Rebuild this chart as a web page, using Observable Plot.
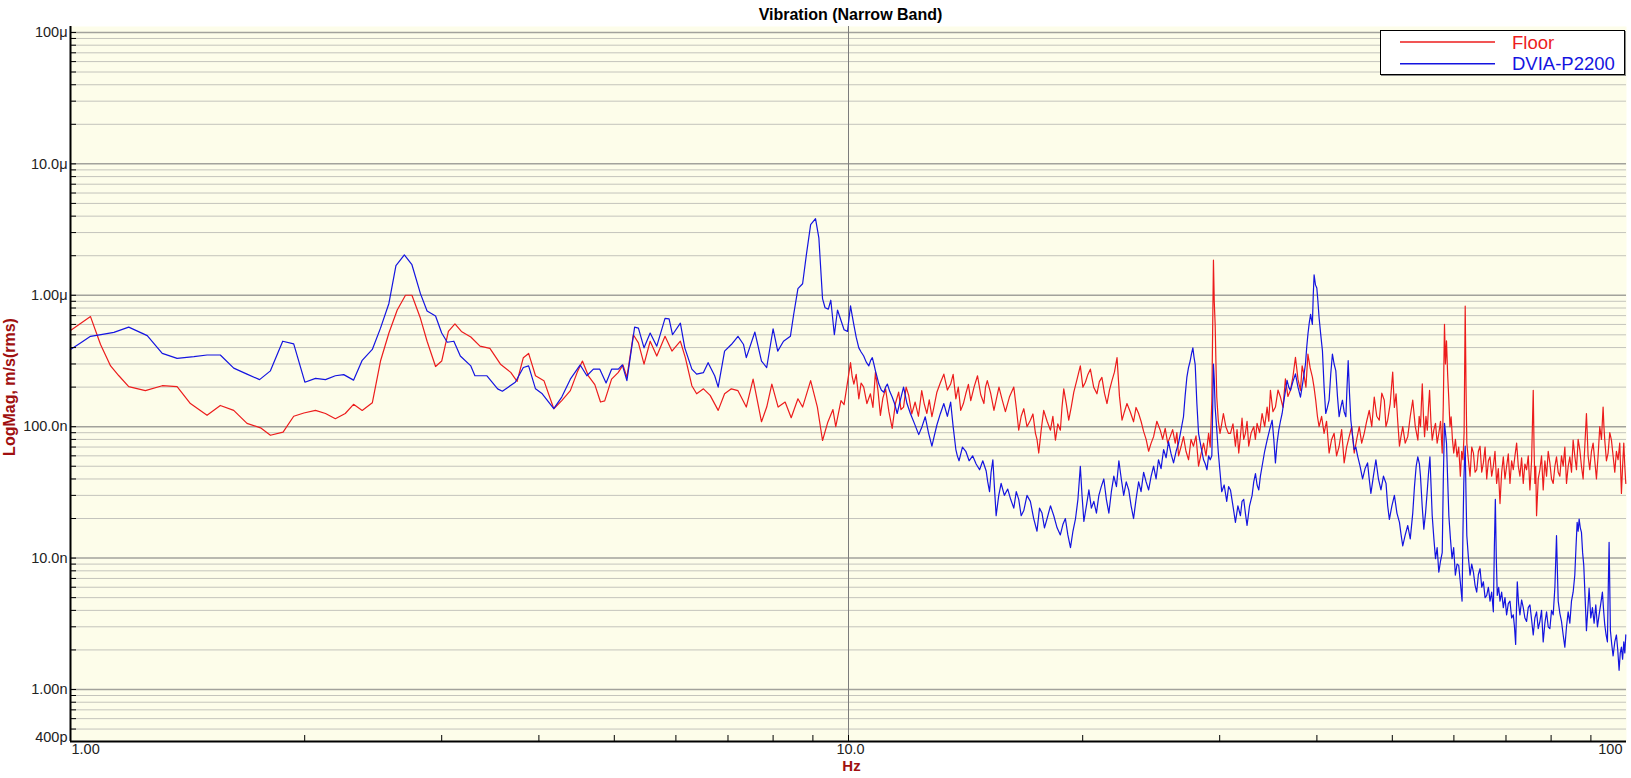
<!DOCTYPE html>
<html><head><meta charset="utf-8">
<script src="https://cdn.jsdelivr.net/npm/d3@7"></script>
<script src="https://cdn.jsdelivr.net/npm/@observablehq/plot@0.6"></script>
<style>
body{margin:0;background:#fff;}
#wrap{position:relative;width:1631px;height:778px;font-family:"Liberation Sans",Arial,sans-serif;}
#legend{position:absolute;left:1380px;top:30px;width:243px;height:43px;background:#fff;border:1px solid #000;box-shadow:1px 1px 0 #888;}
</style></head>
<body><div id="wrap"><div id="legend"></div></div>
<script>
// ---- data (values in nano m/s rms) ----
const seriesNames = ["Floor", "DVIA-P2200"];
const seriesColors = ["#ec1c1c", "#1414e0"];

// Floor, 1 - 10 Hz
const floorFreqLow = [1.00,1.061,1.093,1.126,1.154,1.188,1.248,1.312,1.371,1.426,1.498,1.558,1.621,1.686,1.755,1.807,1.876,1.936,1.995,2.065,2.127,2.190,2.255,2.311,2.371,2.443,2.503,2.566,2.630,2.695,2.747,2.817,2.873,2.946,3.00,3.06,3.12,3.18,
3.27,3.36,3.46,3.57,3.68,3.75,3.82,3.88,3.96,4.06,4.18,4.28,4.39,4.48,4.55,4.63,4.72,4.80,4.86,4.96,5.06,5.13,5.19,5.29,5.37,5.46,5.56,5.67,5.81,5.93,6.08,6.17,6.29,6.38,6.51,6.64,6.80,6.93,7.07,7.21,7.39,7.54,7.73,7.85,7.97,8.12,8.29,8.44,8.61,8.73,8.94,9.12,9.26,9.40,9.55,9.63,9.78,9.87];
const floorNanoLow = [540,688,422,290,244,202,188,205,202,150,122,145,133,106,98,86,91,120,127,133,126,115,126,148,133,152,316,516,772,1000,1000,668,447,287,316,531,606,531,
481,410,394,299,259,221,335,361,244,224,137,158,188,259,316,244,209,154,157,230,259,295,237,501,434,299,447,345,487,376,447,335,205,178,194,173,133,178,194,188,141,230,109,141,211,141,154,117,163,141,224,141,78.5,107,135,100,158,147];

// Floor, 10 - 31 Hz
const floorFreqMid = [
10.06,10.11,10.16,10.23,10.31,10.38,10.46,10.56,10.67,10.75,
10.83,10.91,10.99,11.07,11.16,11.27,11.38,11.49,11.60,11.68,
11.77,11.86,11.95,12.06,12.18,12.30,12.42,12.51,12.61,12.70,
12.80,12.89,12.99,13.12,13.26,13.40,13.53,13.63,13.74,13.84,
13.94,14.05,14.15,14.26,14.36,14.50,14.65,14.79,14.93,15.00,
15.08,15.23,15.38,15.50,15.61,15.76,15.91,16.11,16.31,16.43,
16.55,16.67,16.80,16.96,17.13,17.26,17.39,17.47,17.56,17.69,
17.82,18.00,18.18,18.31,18.45,18.58,18.72,18.81,18.91,19.05,
19.19,19.33,19.48,19.67,19.86,20.01,20.16,20.31,20.46,20.66,
20.86,21.01,21.17,21.33,21.49,21.65,21.81,21.97,22.14,22.30,
22.47,22.63,22.80,23.02,23.25,23.42,23.60,23.77,23.95,24.13,
24.31,24.49,24.67,24.91,25.16,25.34,25.53,25.72,25.91,26.10,
26.30,26.43,26.56,26.75,26.95,27.15,27.36,27.56,27.76,27.97,
28.18,28.39,28.60,28.81,29.03,29.17,29.31,29.45,29.52,29.60,
29.67,29.74,29.88,30.03,30.18,30.33,30.55,30.78];
const floorNanoMid = [
307,240,211,250,163,215,200,150,178,140,
259,190,122,165,194,130,97,150,183,135,
141,200,173,125,154,120,188,150,126,160,
119,145,183,215,251,190,211,250,163,200,
133,150,178,210,158,200,244,175,150,200,
224,180,133,165,200,160,130,170,200,140,
94,120,137,100,112,125,89,80,63,95,
133,110,94,120,79,105,94,140,194,150,
112,140,183,230,290,200,218,250,274,200,
178,220,237,180,150,190,224,260,335,170,
112,130,150,130,109,140,126,110,92,80,
65,75,84,110,94,80,97,75,84,95,
75,90,60,70,84,65,56,80,71,85,
50,62,75,60,89,70,158,1850,900,596,
300,168,110,89,105,126,100,89];

// Floor, 31 - 54 Hz
const floorFreqHigh = [
30.97,31.20,31.43,31.58,31.74,31.90,32.05,32.21,32.37,32.53,
32.69,32.93,33.18,33.34,33.51,33.76,34.01,34.27,34.52,34.69,
34.86,35.12,35.38,35.65,35.91,36.18,36.44,36.71,36.99,37.26,
37.54,37.82,38.10,38.29,38.48,38.72,38.95,39.21,39.47,39.66,
39.86,40.06,40.26,40.56,40.86,41.16,41.47,41.78,42.09,42.40,
42.72,43.04,43.36,43.68,44.01,44.34,44.67,45.00,45.34,45.67,
46.01,46.35,46.70,47.05,47.40,47.75,48.11,48.47,48.83,49.07,
49.32,49.69,50.06,50.31,50.56,50.81,51.07,51.32,51.57,51.95,
52.34,52.73,53.12,53.52,53.93,54.14];
const floorNanoHigh = [
89,105,71,95,63,85,116,80,89,110,
71,90,100,80,106,90,126,100,141,110,
189,130,141,190,168,140,231,170,189,240,
337,230,189,290,252,200,357,280,238,200,
159,120,100,120,89,110,63,80,89,60,
71,95,53,70,84,100,63,80,100,75,
89,110,133,100,168,120,112,180,159,100,
112,150,260,140,178,110,71,85,100,75,
84,120,159,100,79,120];

// Floor, 54 - 100 Hz
const floorFreqTop = [
54.35,54.50,54.64,54.83,55.01,55.24,55.46,55.65,55.83,56.05,
56.27,56.55,56.82,57.10,57.38,57.67,57.96,58.15,58.35,58.52,
58.70,58.90,59.11,59.31,59.51,59.74,59.97,60.27,60.56,60.86,
61.16,61.40,61.63,61.84,62.04,62.19,62.34,62.64,62.94,63.25,
63.57,63.88,64.19,64.51,64.83,65.15,65.47,65.80,66.12,66.45,
66.77,67.10,67.43,67.76,68.09,68.43,68.77,69.11,69.45,69.79,
70.13,70.48,70.83,71.18,71.53,71.88,72.24,72.60,72.95,73.31,
73.67,74.03,74.40,74.77,75.14,75.51,75.88,76.06,76.25,76.44,
76.63,77.01,77.39,77.77,78.15,78.54,78.93,79.32,79.71,80.10,
80.50,80.90,81.29,81.70,82.10,82.50,82.91,83.32,83.73,84.15,
84.56,84.98,85.39,85.81,86.24,86.66,87.09,87.52,87.95,88.38,
88.82,89.26,89.70,90.15,90.59,91.04,91.49,91.94,92.39,92.85,
93.31,93.54,93.77,94.23,94.70,95.17,95.64,96.11,96.59,97.06,
97.54,98.02,98.51,98.85,99.20,99.50,99.79];
const floorNanoTop = [
100,150,212,120,84,120,94,140,189,110,
79,95,106,75,89,110,63,150,601,300,
450,250,159,100,119,80,63,80,59,70,
42,65,56,90,826,200,75,55,42,70,
63,45,47,65,71,45,53,70,40,55,
59,42,50,65,37,48,26,45,59,40,
50,62,37,55,47,60,75,50,42,58,
37,52,47,60,33,55,189,70,37,50,
21,40,47,60,33,55,42,65,53,40,
37,50,59,45,42,60,50,70,37,50,
59,45,79,60,47,80,67,50,40,70,
126,60,47,65,75,55,40,60,100,80,
141,100,79,55,63,90,79,60,45,65,
56,75,31,50,75,50,37];

// DVIA-P2200, 1 - 10 Hz
const dviaFreqLow = [1.00,1.030,1.061,1.104,1.137,1.188,1.255,1.312,1.371,1.441,1.498,1.558,1.621,1.686,1.750,1.807,1.874,1.936,2.001,2.065,2.127,2.190,2.245,2.311,2.371,2.443,2.503,2.566,2.620,2.686,2.747,2.817,2.873,2.946,3.00,3.05,3.11,3.17,
3.27,3.31,3.43,3.54,3.59,3.73,3.82,3.88,3.96,4.04,4.18,4.28,4.39,4.52,4.61,4.70,4.79,4.88,4.96,5.06,5.12,5.19,5.31,5.37,5.46,5.56,5.67,5.81,5.88,5.94,6.08,6.16,6.29,6.38,6.51,6.60,6.73,6.80,6.93,7.07,7.21,7.33,7.39,7.58,7.73,7.85,8.00,8.11,8.25,8.42,8.50,8.61,8.73,8.83,8.94,9.07,9.16,9.26,9.33,9.42,9.49,9.59,9.68,9.87,9.97];
const dviaNanoLow = [387,434,487,507,522,572,493,361,331,341,351,351,279,251,228,266,447,427,218,233,228,244,249,226,320,387,562,866,1679,2030,1708,1029,759,696,516,439,447,345,
290,244,244,194,186,218,282,290,194,178,137,168,230,295,244,274,274,215,274,274,295,224,572,562,398,516,410,668,661,501,613,398,274,251,258,307,244,200,376,422,487,422,335,525,316,282,556,376,447,487,708,1122,1223,2054,3447,3824,2738,944,804,785,917,501,772,547,531];

// DVIA-P2200, 10 - 31 Hz
const dviaFreqMid = [
10.06,10.11,10.16,10.23,10.31,10.38,10.46,10.54,10.62,10.68,
10.73,10.78,10.83,10.88,10.94,11.02,11.10,11.16,11.22,11.30,
11.38,11.46,11.55,11.66,11.77,11.89,12.01,12.16,12.31,12.43,
12.55,12.67,12.80,12.89,12.99,13.12,13.26,13.40,13.53,13.63,
13.74,13.80,13.87,14.01,14.15,14.29,14.44,14.59,14.74,14.88,
15.03,15.10,15.18,15.25,15.33,15.40,15.48,15.60,15.71,15.86,
16.02,16.16,16.31,16.43,16.55,16.67,16.80,16.96,17.13,17.30,
17.47,17.60,17.73,17.86,18.00,18.18,18.36,18.54,18.72,18.86,
19.00,19.14,19.29,19.43,19.58,19.72,19.86,19.96,20.07,20.22,
20.37,20.52,20.67,20.83,20.98,21.13,21.29,21.45,21.61,21.77,
21.93,22.10,22.26,22.42,22.58,22.75,22.92,23.08,23.25,23.42,
23.60,23.77,23.95,24.13,24.31,24.49,24.67,24.85,25.03,25.22,
25.41,25.60,25.78,25.98,26.17,26.37,26.56,26.76,26.95,27.08,
27.22,27.35,27.49,27.60,27.71,27.80,27.90,28.04,28.18,28.39,
28.60,28.75,28.89,29.03,29.17,29.31,29.45,29.52,29.60,29.74,
29.88,30.03,30.18,30.40,30.63,30.80];
const dviaNanoMid = [
830,700,596,480,398,370,345,310,290,320,
335,300,266,240,211,190,183,200,211,185,
168,150,126,160,200,150,126,105,87,100,
119,90,71,85,103,125,150,120,154,100,
67,60,55,70,65,55,60,52,47,55,
46,38,32,45,56,35,21,30,37,30,
33.5,28,24,32,28,21,23,30,27,20,
16,24,22,17,20,25,21,17,15,18,
20,15,12,16,20,28,50,30,19,25,
33,24,27,22,30,35,40,28,22,32,
42,35,55,40,30,38,33,25,20,28,
38,32,45,38,33,42,50,40,56,48,
67,58,77,62,53,65,75,95,119,170,
237,280,316,360,398,340,298,150,89,70,
56,52,47,60,56,60,300,230,140,95,
63,45,32,36,27,35];

// DVIA-P2200, 31 - 54 Hz
const dviaFreqHigh = [
30.97,31.20,31.43,31.66,31.90,32.05,32.21,32.37,32.53,32.77,
33.02,33.18,33.35,33.51,33.68,33.84,34.01,34.27,34.52,34.78,
35.04,35.21,35.38,35.55,35.73,35.91,36.09,36.35,36.62,36.80,
36.99,37.26,37.54,37.82,38.10,38.38,38.67,38.81,38.95,39.11,
39.26,39.37,39.47,39.57,39.67,39.83,39.99,40.12,40.26,40.46,
40.66,40.86,41.06,41.26,41.47,41.67,41.88,42.09,42.30,42.51,
42.72,42.93,43.14,43.36,43.58,43.73,43.88,44.05,44.23,44.45,
44.67,44.89,45.12,45.45,45.79,46.13,46.47,46.70,46.93,47.28,
47.63,47.99,48.35,48.71,49.08,49.32,49.57,49.94,50.31,50.69,
51.07,51.32,51.57,51.95,52.34,52.73,53.12,53.39,53.66,53.92,
54.18];
const dviaNanoHigh = [
33,25,18.7,25,21,27,28,22,17.7,25,
30,38,44,36,33,42,50,65,79,95,
112,80,53,75,94,110,126,170,225,200,
189,220,252,200,168,220,300,400,505,620,
715,650,601,1000,1432,1200,1136,900,675,500,
378,200,126,140,159,250,357,300,267,170,
119,140,159,130,119,200,318,180,112,85,
67,70,60,50,40,48,53,40,31,42,
56,40,33,42,37,25,19.7,25,30,22,
18.7,15,12.4,15,17.7,14,22,35,50,59,
52];

// DVIA-P2200, 54 - 100 Hz
const dviaFreqTop = [
54.35,54.62,54.89,55.17,55.46,55.67,55.89,56.08,56.27,56.55,
56.82,57.10,57.38,57.67,57.96,58.15,58.35,58.52,58.70,58.90,
59.11,59.39,59.67,59.96,60.26,60.56,60.86,61.16,61.47,61.62,
61.78,61.91,62.04,62.19,62.34,62.64,62.94,63.25,63.57,63.88,
64.19,64.51,64.83,65.15,65.47,65.80,66.12,66.45,66.77,67.10,
67.43,67.63,67.83,68.02,68.22,68.50,68.77,69.11,69.45,69.79,
70.13,70.48,70.83,71.18,71.53,71.78,72.03,72.20,72.38,72.66,
72.95,73.31,73.67,74.03,74.40,74.77,75.14,75.51,75.88,76.25,
76.63,77.01,77.39,77.77,78.15,78.54,78.93,79.32,79.71,80.10,
80.50,80.90,81.29,81.50,81.70,82.10,82.50,82.91,83.32,83.73,
84.14,84.56,84.97,85.39,85.81,86.11,86.41,86.67,86.92,87.22,
87.52,87.82,88.12,88.47,88.82,89.17,89.52,89.97,90.41,90.86,
91.31,91.76,92.21,92.67,93.12,93.45,93.77,94.14,94.51,94.75,
94.98,95.17,95.35,95.73,96.11,96.59,97.06,97.45,97.83,98.17,
98.51,98.85,99.20,99.50,99.79];
const dviaNanoTop = [
42,25,16.6,22,33,45,59,35,21,14,
9.9,12,7.8,9.5,11,40,106,90,75,40,
21,14,9.9,12,7.4,9,8.8,6.5,4.7,15,
37,55,71,30,14.8,10,7.4,9,7.8,6.2,
5.5,7.5,8.3,6,6.6,5,5.2,6,4.7,5.5,
3.9,12,28,10,5.2,6,4.7,5.5,4.2,5,
3.7,4.5,4.7,3.5,3.7,3.0,2.2,4,6.6,4.5,
3.7,4.8,4.2,3.5,3.3,4.2,4.4,3.4,2.6,3.5,
3.9,2.9,3.3,4.0,2.3,3.2,3.9,3.0,2.9,4.0,
3.7,6,14.8,8,4.7,3.8,3.3,2.6,2.1,3.0,
3.9,3.2,4.7,5.5,7.4,12,18.7,16,19.8,17,
15.7,11,8.8,5,2.8,4,5.9,3.5,4.2,3.2,
4.4,3.0,3.7,4.5,5.5,4,3.1,2.6,2.3,6,
13.2,6,2.8,2.2,1.8,2.3,2.6,2.0,1.4,1.9,
2.1,1.7,2.3,1.9,2.6];

// ---- axes ----
const xDomain = [1, 100];
const yDomain = [4.02e-10, 1.11e-4];
const xTickVals = [1, 10, 100];
const xTickLabels = ["1.00", "10.0", "100"];
const xMinorTicks = [2,3,4,5,6,7,8,9,10,20,30,40,50,60,70,80,90];
const yMajor = [1e-4, 1e-5, 1e-6, 1e-7, 1e-8, 1e-9];
const yTickLabels = ["100μ", "10.0μ", "1.00μ", "100.0n", "10.0n", "1.00n"];
const yBottomLabel = "400p";
const yMinor = [];
for (let e = -10; e <= -5; e++) for (let k = 2; k <= 9; k++) {
  const v = k * Math.pow(10, e);
  if (v > 4.05e-10 && v < yDomain[1]) yMinor.push(v);
}
const yAllTicks = yMajor.concat(yMinor);

const toRows = (segs, name) => segs.flatMap(([fs, vs]) =>
  fs.slice(0, Math.min(fs.length, vs.length)).map((f, i) => ({f, v: vs[i] * 1e-9, name})));
const floorRows = toRows([[floorFreqLow, floorNanoLow], [floorFreqMid, floorNanoMid], [floorFreqHigh, floorNanoHigh], [floorFreqTop, floorNanoTop]], seriesNames[0]);
const dviaRows = toRows([[dviaFreqLow, dviaNanoLow], [dviaFreqMid, dviaNanoMid], [dviaFreqHigh, dviaNanoHigh], [dviaFreqTop, dviaNanoTop]], seriesNames[1]);

const labelColor = "#a01010";
const fontFam = "Liberation Sans, Arial, sans-serif";

const chart = Plot.plot({
  width: 1631, height: 778,
  marginLeft: 70, marginRight: 5, marginTop: 26, marginBottom: 37,
  style: {fontFamily: fontFam, fontSize: "14.5px", background: "#fff", color: "#222"},
  x: {type: "log", domain: xDomain, axis: null},
  y: {type: "log", domain: yDomain, axis: null},
  marks: [
    Plot.frame({fill: "#fdfdea", stroke: null}),
    Plot.ruleY(yMinor, {y: d => d, stroke: "#c4c4bc", strokeWidth: 1}),
    Plot.ruleY(yMajor, {y: d => d, stroke: "#a2a29c", strokeWidth: 1.5}),
    Plot.ruleX([10], {x: d => d, stroke: "#7c7c7c", strokeWidth: 1}),
    Plot.line(floorRows, {x: "f", y: "v", stroke: seriesColors[0], strokeWidth: 1.2}),
    Plot.line(dviaRows, {x: "f", y: "v", stroke: seriesColors[1], strokeWidth: 1.2}),
    Plot.axisY({ticks: yAllTicks, tickSize: 6, dx: 6, tickFormat: () => "", stroke: "#000", label: null}),
    Plot.axisX({ticks: xMinorTicks, tickSize: 6, dy: -6, tickFormat: () => "", stroke: "#000", label: null}),
    Plot.ruleX([xDomain[0]], {x: d => d, stroke: "#000", strokeWidth: 2}),
    Plot.ruleY([yDomain[0]], {y: d => d, stroke: "#000", strokeWidth: 2}),
    Plot.text(yMajor, {y: d => d, text: (d, i) => yTickLabels[i], frameAnchor: "left", textAnchor: "end", dx: -3, fill: "#222", fontSize: 14.5}),
    Plot.text([yDomain[0]], {y: d => d, text: () => yBottomLabel, frameAnchor: "left", textAnchor: "end", dx: -3, dy: -4, fill: "#222", fontSize: 14.5}),
    Plot.text([xTickVals[0]], {x: d => d, text: () => xTickLabels[0], frameAnchor: "bottom", textAnchor: "start", dx: 1, dy: 12, fill: "#222", fontSize: 14.5}),
    Plot.text([xTickVals[1]], {x: d => d, text: () => xTickLabels[1], frameAnchor: "bottom", textAnchor: "middle", dx: 2, dy: 12, fill: "#222", fontSize: 14.5}),
    Plot.text([xTickVals[2]], {x: d => d, text: () => xTickLabels[2], frameAnchor: "bottom", textAnchor: "end", dx: -4, dy: 12, fill: "#222", fontSize: 14.5}),
    Plot.text(["Hz"], {frameAnchor: "bottom", text: d => d, textAnchor: "middle", dx: 3, dy: 29, fill: labelColor, fontWeight: "bold", fontSize: 15}),
    Plot.text(["LogMag, m/s(rms)"], {frameAnchor: "left", text: d => d, textAnchor: "middle", rotate: -90, dx: -61, dy: 3, fill: labelColor, fontWeight: "bold", fontSize: 16}),
    Plot.text(["Vibration (Narrow Band)"], {frameAnchor: "top", text: d => d, textAnchor: "middle", dx: 2, dy: -18, fill: "#000", fontWeight: "bold", fontSize: 16})
  ]
});
document.getElementById("wrap").prepend(chart);

// legend
const lg = d3.select("#legend").append("svg").attr("width", 243).attr("height", 43)
  .style("position", "absolute").style("left", 0).style("top", 0);
seriesNames.forEach((name, i) => {
  const yy = 11 + i * 21.7;
  lg.append("line").attr("x1", 19).attr("x2", 114).attr("y1", yy).attr("y2", yy)
    .attr("stroke", seriesColors[i]).attr("stroke-width", 1.6);
  lg.append("text").attr("x", 131).attr("y", yy + 6.5).text(name)
    .attr("fill", seriesColors[i]).attr("font-size", 18.5).attr("font-family", fontFam);
});
</script>
</body></html>
